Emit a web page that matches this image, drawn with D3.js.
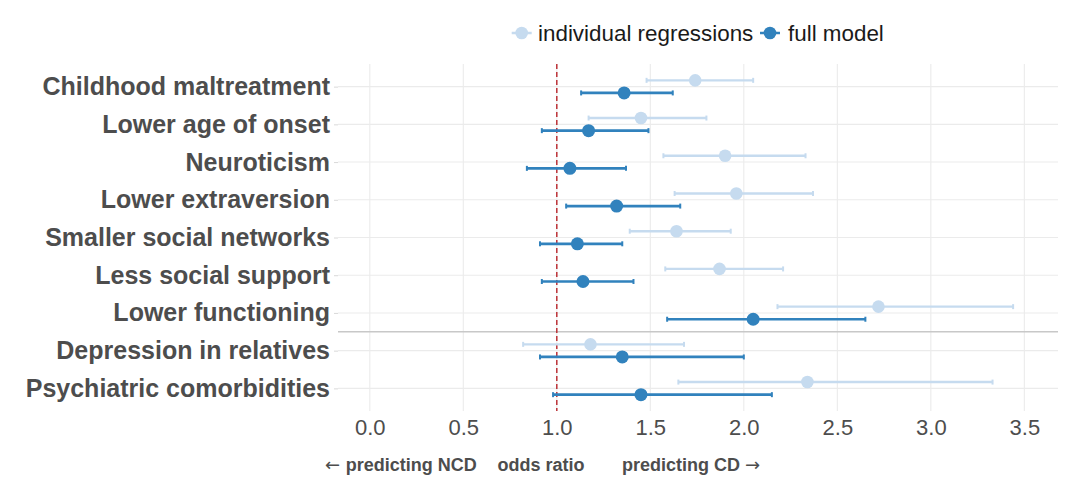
<!DOCTYPE html>
<html>
<head>
<meta charset="utf-8">
<script src="https://cdn.jsdelivr.net/npm/d3@7"></script>
<style>
  body { margin: 0; background: #fff; }
  text { font-family: "Liberation Sans", Arial, Helvetica, sans-serif; }
</style>
</head>
<body>
<script>
// predictors, top to bottom
var categories = ["Childhood maltreatment", "Lower age of onset", "Neuroticism",
                  "Lower extraversion", "Smaller social networks", "Less social support",
                  "Lower functioning", "Depression in relatives", "Psychiatric comorbidities"];

// odds ratios from the individual regressions
var indivOR    = [1.74, 1.45, 1.90, 1.96, 1.64, 1.87, 2.72, 1.18, 2.34];
var indivLower = [1.48, 1.17, 1.57, 1.63, 1.39, 1.58, 2.18, 0.82, 1.65];
var indivUpper = [2.05, 1.80, 2.33, 2.37, 1.93, 2.21, 3.44, 1.68, 3.33];

// odds ratios from the full model
var fullOR    = [1.36, 1.17, 1.07, 1.32, 1.11, 1.14, 2.05, 1.35, 1.45];
var fullLower = [1.13, 0.92, 0.84, 1.05, 0.91, 0.92, 1.59, 0.91, 0.98];
var fullUpper = [1.62, 1.49, 1.37, 1.66, 1.35, 1.41, 2.65, 2.00, 2.15];

var xTicks = [0, 0.5, 1, 1.5, 2, 2.5, 3, 3.5];
var seriesNames = ["individual regressions", "full model"];

function draw() {
  "use strict";
  var width = 1080, height = 483;
  var left = 338, right = 1058, top = 64, bottom = 411;
  var light = "#c6dbef", dark = "#3182bd";

  var svg = d3.select("body")
    .append("svg")
      .attr("width", width)
      .attr("height", height);

  var x = d3.scaleLinear().domain([-0.17, 3.68]).range([left, right]);
  var y = d3.scalePoint().domain(categories).range([top, bottom]).padding(0.6);

  // grid
  svg.append("g").selectAll("line")
    .data(xTicks).enter().append("line")
      .attr("x1", d => x(d)).attr("x2", d => x(d))
      .attr("y1", top).attr("y2", bottom)
      .attr("stroke", "#ebebeb").attr("stroke-width", 1.1);

  svg.append("g").selectAll("line")
    .data(categories).enter().append("line")
      .attr("x1", left).attr("x2", right)
      .attr("y1", d => y(d)).attr("y2", d => y(d))
      .attr("stroke", "#ebebeb").attr("stroke-width", 1.1);

  // separator between personal and family/clinical factors
  var sepY = (y(categories[6]) + y(categories[7])) / 2;
  svg.append("line")
    .attr("x1", left).attr("x2", right)
    .attr("y1", sepY).attr("y2", sepY)
    .attr("stroke", "#c8c8c8").attr("stroke-width", 1.5);

  // reference line at OR = 1
  svg.append("line")
    .attr("x1", x(1)).attr("x2", x(1))
    .attr("y1", top).attr("y2", bottom)
    .attr("stroke", "#b8252b").attr("stroke-width", 1.4)
    .attr("stroke-dasharray", "5,3");

  // series: error bars + points
  var series = [
    {name: seriesNames[0], or: indivOR, lo: indivLower, hi: indivUpper, color: light, dy: -6.3, lw: 2.4, r: 6.3},
    {name: seriesNames[1], or: fullOR, lo: fullLower, hi: fullUpper, color: dark, dy: 6.3, lw: 2.7, r: 6.5}
  ];

  series.forEach(function(s) {
    var g = svg.append("g");
    var rows = categories.map(function(c, i) {
      return {cat: c, or: s.or[i], lo: s.lo[i], hi: s.hi[i]};
    });
    g.selectAll(".bar").data(rows).enter().append("line")
      .attr("x1", d => x(d.lo)).attr("x2", d => x(d.hi))
      .attr("y1", d => y(d.cat) + s.dy).attr("y2", d => y(d.cat) + s.dy)
      .attr("stroke", s.color).attr("stroke-width", s.lw);
    ["lo", "hi"].forEach(function(k) {
      g.selectAll(".cap" + k).data(rows).enter().append("line")
        .attr("x1", d => x(d[k])).attr("x2", d => x(d[k]))
        .attr("y1", d => y(d.cat) + s.dy - 2.5).attr("y2", d => y(d.cat) + s.dy + 2.5)
        .attr("stroke", s.color).attr("stroke-width", 2);
    });
    g.selectAll("circle").data(rows).enter().append("circle")
      .attr("cx", d => x(d.or))
      .attr("cy", d => y(d.cat) + s.dy)
      .attr("r", s.r)
      .attr("fill", s.color);
  });

  // axes
  var xAxis = svg.append("g")
    .attr("transform", "translate(0," + bottom + ")")
    .call(d3.axisBottom(x).tickValues(xTicks).tickSize(0).tickPadding(8)
      .tickFormat(d3.format(".1f")));
  xAxis.select(".domain").remove();
  xAxis.selectAll("text")
    .style("font-size", "22px").attr("fill", "#4d4d4d");

  var yAxis = svg.append("g")
    .attr("transform", "translate(" + left + ",0)")
    .call(d3.axisLeft(y).tickSize(4).tickPadding(4));
  yAxis.select(".domain").remove();
  yAxis.selectAll("line").attr("stroke", "#d9d9d9");
  yAxis.selectAll("text")
    .style("font-size", "25px").style("font-weight", "bold")
    .attr("fill", "#4d4d4d");

  // x axis title in three parts
  var title = svg.append("g")
    .style("font-size", "18px").style("font-weight", "bold")
    .attr("fill", "#4d4d4d");
  var t1 = title.append("text").attr("x", 325).attr("y", 471);
  t1.append("tspan").style("font-family", "DejaVu Sans").style("font-weight", "normal").text("\u2190 ");
  t1.append("tspan").text("predicting NCD");
  title.append("text").attr("x", 541).attr("y", 471).style("text-anchor", "middle").text("odds ratio");
  var t3 = title.append("text").attr("x", 622).attr("y", 471);
  t3.append("tspan").text("predicting CD ");
  t3.append("tspan").style("font-family", "DejaVu Sans").style("font-weight", "normal").text("\u2192");

  // legend
  var legend = svg.append("g");
  var keys = [
    {name: seriesNames[0], color: light, kx: 521.7, tx: 538},
    {name: seriesNames[1], color: dark, kx: 770, tx: 788}
  ];
  keys.forEach(function(k) {
    legend.append("line")
      .attr("x1", k.kx - 10).attr("x2", k.kx + 10)
      .attr("y1", 33).attr("y2", 33)
      .attr("stroke", k.color).attr("stroke-width", 2.5);
    legend.append("circle")
      .attr("cx", k.kx).attr("cy", 33).attr("r", 6.3)
      .attr("fill", k.color);
    legend.append("text")
      .attr("x", k.tx).attr("y", 40.5)
      .style("font-size", "22.4px").attr("fill", "#1a1a1a")
      .text(k.name);
  });
}

draw();
</script>
</body>
</html>
